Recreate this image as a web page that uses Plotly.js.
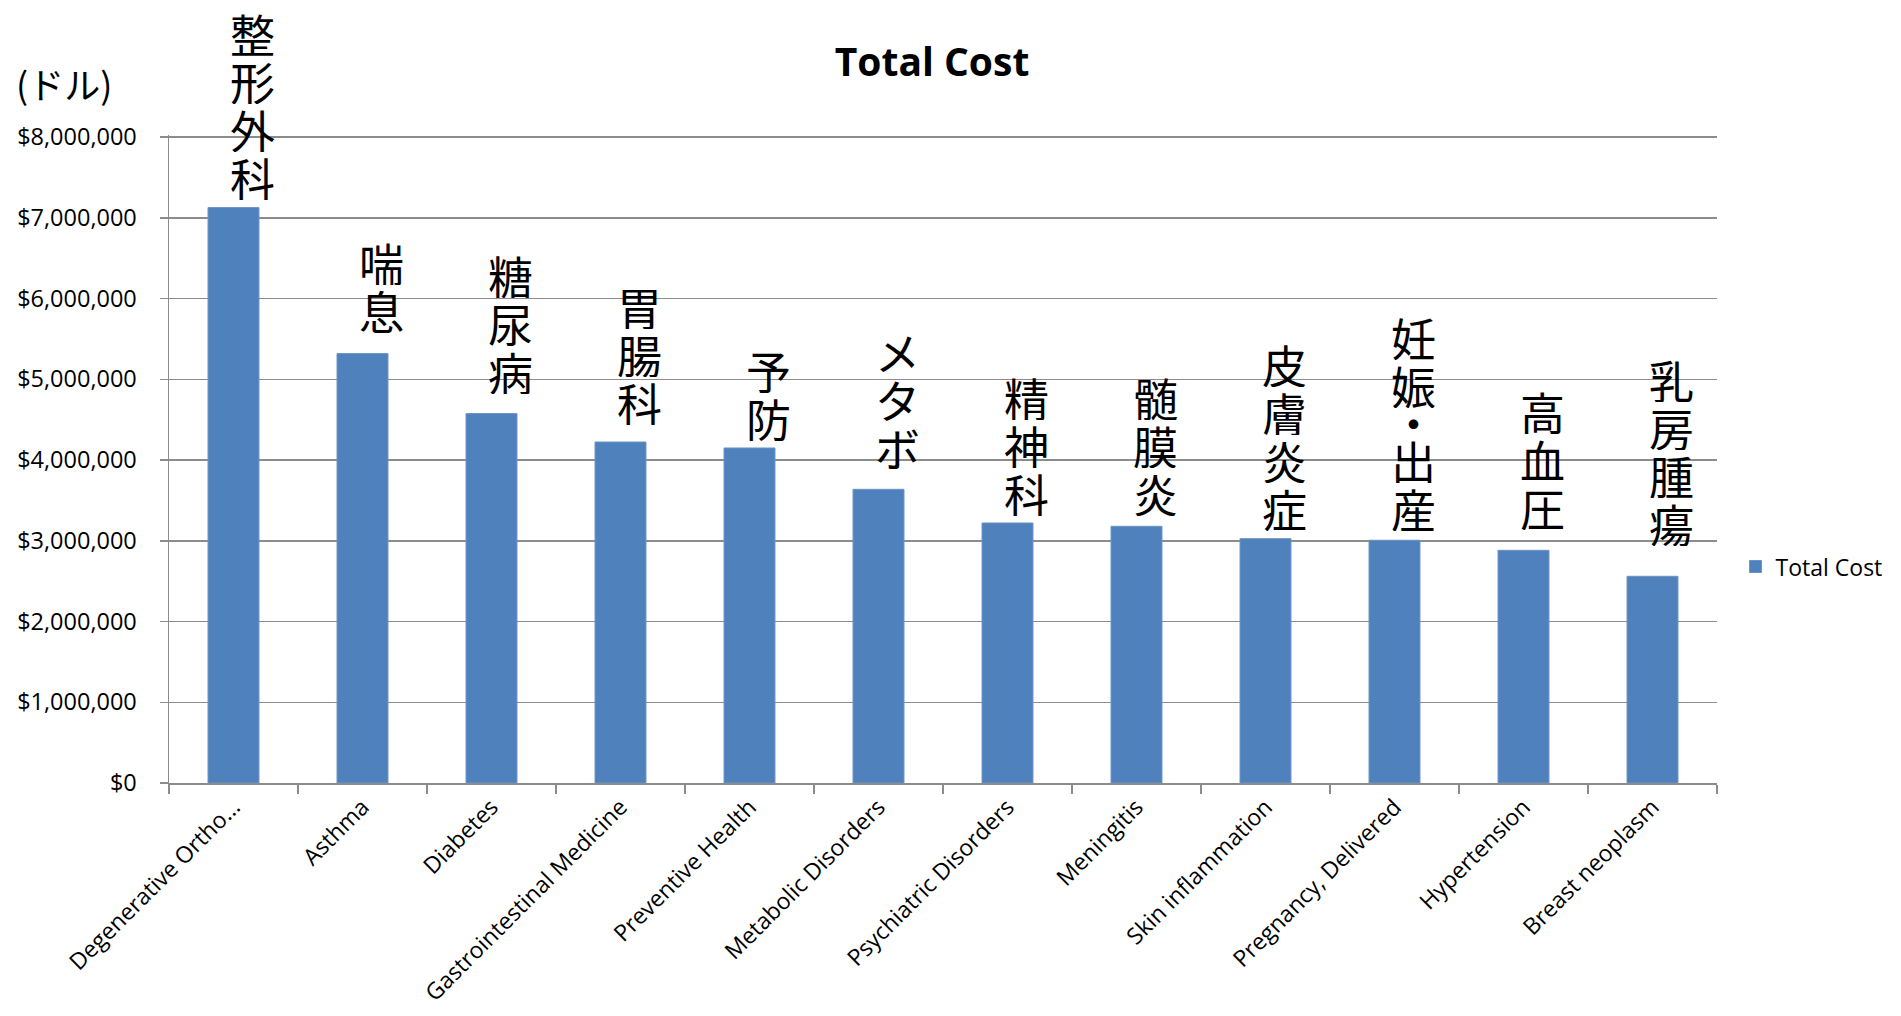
<!DOCTYPE html>
<html>
<head>
<meta charset="utf-8">
<script src="https://cdn.plot.ly/plotly-3.0.1.min.js"></script>
<style>
  html, body { margin: 0; padding: 0; background: #fff; }
  #chart { width: 1901px; height: 1016px; }
</style>
</head>
<body>
<div id="chart"></div>
<script>
// ---- data ----
const categories = [
  "Degenerative Ortho...", "Asthma", "Diabetes", "Gastrointestinal Medicine",
  "Preventive Health", "Metabolic Disorders", "Psychiatric Disorders", "Meningitis",
  "Skin inflammation", "Pregnancy, Delivered", "Hypertension", "Breast neoplasm"
];
const totalCost = [7126000, 5318000, 4575000, 4223000, 4149000, 3637000,
                   3220000, 3179000, 3026000, 3006000, 2882000, 2560000];
const jpLabels = ["整形外科", "喘息", "糖尿病", "胃腸科", "予防", "メタボ",
                  "精神科", "髄膜炎", "皮膚炎症", "妊娠・出産", "高血圧", "乳房腫瘍"];
const seriesName = "Total Cost";
const chartTitle = "Total Cost";
const unitLabel = "(ドル)";

// ---- label placement (style) ----
const labelGap = [10, 23, 22, 20, 9, 22, 9, 13, 10, 12, 23, 33];
const charPitch = 48, dotPitch = 37.5, halfGlyph = 20.5, calib = 0;

const annotations = [];
categories.forEach((cat, i) => {
  const chars = Array.from(jpLabels[i]);
  const offs = new Array(chars.length);
  let off = 0;
  for (let k = chars.length - 1; k >= 0; k--) {
    if (k < chars.length - 1) off += (chars[k] === '・' || chars[k + 1] === '・') ? dotPitch : charPitch;
    offs[k] = off;
  }
  chars.forEach((ch, k) => {
    annotations.push({
      x: cat, y: totalCost[i], xref: 'x', yref: 'y', text: ch, showarrow: false,
      xanchor: 'center', yanchor: 'middle', xshift: 19,
      height: ch === '・' ? 28 : 46, valign: 'middle', borderpad: 0,
      yshift: labelGap[i] + halfGlyph + offs[k] + calib,
      font: { family: 'Noto Sans CJK JP', size: 45, color: '#000' }
    });
  });
});
annotations.push({
  x: -0.0678, y: 1.0805, xref: 'paper', yref: 'paper', text: unitLabel, showarrow: false,
  xanchor: 'center', yanchor: 'middle', borderpad: 0,
  font: { family: 'Noto Sans CJK JP', size: 36, color: '#000' }
});

const trace = {
  type: 'bar', x: categories, y: totalCost, name: seriesName,
  marker: { color: '#4F81BD', line: { color: '#6a93c6', width: 1 } },
  showlegend: true, hoverinfo: 'x+y'
};

const gridGray = '#8c8c8c';
const layout = {
  width: 1901, height: 1016,
  margin: { l: 169, r: 184, t: 135, b: 233, pad: 0 },
  paper_bgcolor: '#fff', plot_bgcolor: '#fff',
  font: { family: 'Open Sans', color: '#000' },
  title: {
    text: chartTitle, xref: 'container', yref: 'container',
    x: 0.4903, y: 0.939, xanchor: 'center', yanchor: 'middle',
    font: { family: 'Open Sans', size: 39, color: '#000', weight: 'bold' }
  },
  bargap: 0.605,
  showlegend: true,
  legend: {
    x: 1.012, y: 0.334, xanchor: 'left', yanchor: 'middle',
    font: { family: 'Open Sans', size: 23, color: '#000' },
    bgcolor: 'rgba(0,0,0,0)'
  },
  xaxis: {
    type: 'category', tickangle: -45, tickson: 'boundaries',
    ticks: 'outside', ticklen: 9, tickwidth: 1.5, tickcolor: gridGray,
    showline: true, linecolor: gridGray, linewidth: 1.5,
    showgrid: false, zeroline: false,
    tickfont: { family: 'Open Sans', size: 23, color: '#000' },
    fixedrange: true
  },
  yaxis: {
    range: [0, 8025000], tickvals: [0, 1000000, 2000000, 3000000, 4000000, 5000000, 6000000, 7000000, 8000000],
    tickformat: '$,.0f',
    ticks: 'outside', ticklen: 8, tickwidth: 1.5, tickcolor: gridGray,
    showline: true, linecolor: gridGray, linewidth: 1.5,
    showgrid: true, gridcolor: gridGray, gridwidth: 1.5, zeroline: false,
    tickfont: { family: 'Open Sans', size: 23.5, color: '#000' },
    ticklabelstandoff: 18,
    fixedrange: true
  },
  annotations: annotations
};

Plotly.newPlot('chart', [trace], layout, { displayModeBar: false, staticPlot: true });
</script>
</body>
</html>
